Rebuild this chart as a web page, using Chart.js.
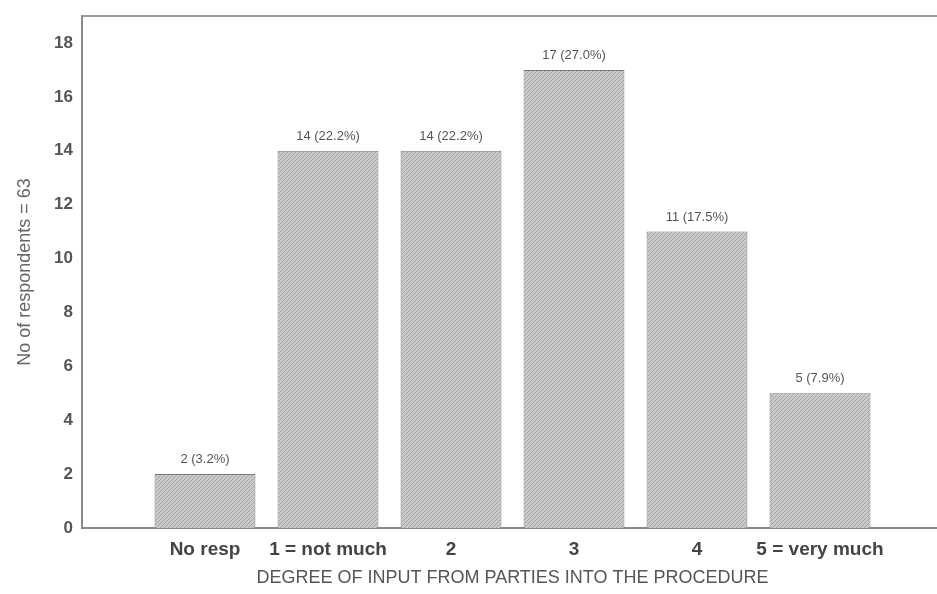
<!DOCTYPE html>
<html>
<head>
<meta charset="utf-8">
<script src="https://cdn.jsdelivr.net/npm/chart.js@4.4.1/dist/chart.umd.min.js"></script>
<style>
  html,body{margin:0;padding:0;background:#fff;overflow:hidden;}
  #wrap{width:937px;height:594px;position:relative;overflow:hidden;}
  #c{display:block;}
</style>
</head>
<body>
<div id="wrap"><canvas id="c" width="943" height="594" style="width:943px;height:594px"></canvas></div>
<script>
// ---- data ----
const categories = ['', 'No resp', '1 = not much', '2', '3', '4', '5 = very much', ''];
const respondents = [null, 2, 14, 14, 17, 11, 5, null];
const barLabels = ['', '2 (3.2%)', '14 (22.2%)', '14 (22.2%)', '17 (27.0%)', '11 (17.5%)', '5 (7.9%)', ''];
const yTicks = [0, 2, 4, 6, 8, 10, 12, 14, 16, 18];

// hatched fill
function makePattern() {
  const p = document.createElement('canvas');
  p.width = 4; p.height = 4;
  const g = p.getContext('2d');
  g.fillStyle = '#cbcbcb';
  g.fillRect(0, 0, 4, 4);
  g.strokeStyle = '#a2a2a2';
  g.lineWidth = 1;
  g.beginPath();
  g.moveTo(0, 4); g.lineTo(4, 0);
  g.moveTo(-1, 1); g.lineTo(1, -1);
  g.moveTo(3, 5); g.lineTo(5, 3);
  g.stroke();
  return g.createPattern(p, 'repeat');
}

const FONT = '"Liberation Sans", Arial, sans-serif';

const labelPlugin = {
  id: 'barLabels',
  afterDatasetsDraw(chart) {
    const ctx = chart.ctx;
    const meta = chart.getDatasetMeta(0);
    ctx.save();
    ctx.font = '13px ' + FONT;
    ctx.fillStyle = '#555';
    ctx.textAlign = 'center';
    ctx.textBaseline = 'bottom';
    meta.data.forEach((bar, i) => {
      if (respondents[i] == null) return;
      ctx.fillText(barLabels[i], bar.x, bar.y - 8);
    });
    ctx.restore();
  },
  afterDraw(chart) {
    const ctx = chart.ctx;
    const a = chart.chartArea;
    ctx.save();
    ctx.strokeStyle = '#9a9a9a';
    ctx.lineWidth = 2;
    ctx.beginPath();
    ctx.moveTo(a.left, a.top);
    ctx.lineTo(a.right, a.top);
    ctx.stroke();
    ctx.restore();
  }
};

new Chart(document.getElementById('c'), {
  type: 'bar',
  data: {
    labels: categories,
    datasets: [{
      data: respondents,
      backgroundColor: makePattern(),
      borderColor: '#7a7a7a',
      borderWidth: 1,
      barPercentage: 0.82,
      categoryPercentage: 1.0
    }]
  },
  options: {
    responsive: false,
    animation: false,
    layout: { padding: { top: 16, right: 0, left: 0, bottom: 0 } },
    plugins: { legend: { display: false }, tooltip: { enabled: false } },
    scales: {
      x: {
        offset: false,
        grid: { display: false, drawTicks: false },
        border: { display: true, color: '#8a8a8a', width: 2 },
        ticks: {
          autoSkip: false, maxRotation: 0, padding: 10,
          color: '#444', font: { family: FONT, size: 19, weight: 'bold' }
        },
        title: {
          display: true,
          text: 'DEGREE OF INPUT FROM PARTIES INTO THE PROCEDURE',
          color: '#555', font: { family: FONT, size: 18 },
          padding: { top: 0, bottom: 5 }
        },
        afterFit(s) { s.height = 66; s.paddingLeft = 0; s.paddingRight = 0; }
      },
      y: {
        min: 0, max: 19,
        afterBuildTicks(s) { s.ticks = yTicks.map(v => ({ value: v })); },
        grid: { display: false, drawTicks: false },
        border: { display: true, color: '#8a8a8a', width: 2 },
        ticks: {
          padding: 9,
          color: '#555', font: { family: FONT, size: 17, weight: 'bold' }
        },
        title: {
          display: true,
          text: 'No of respondents = 63',
          color: '#666', font: { family: FONT, size: 18 },
          padding: { top: 14, bottom: 0 }
        },
        afterFit(s) { s.width = 82; s.paddingTop = 0; s.paddingBottom = 0; }
      }
    }
  },
  plugins: [labelPlugin]
});
</script>
</body>
</html>
